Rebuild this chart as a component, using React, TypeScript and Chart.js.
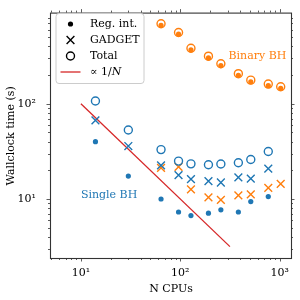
import React, { useEffect, useRef } from 'react';
import { Chart, registerables } from 'chart.js';

Chart.register(...registerables);

const BLUE = '#1f77b4';
const ORANGE = '#ff7f0e';
const RED = '#d62728';
const FONT = '"DejaVu Serif", "Liberation Serif", serif';

// Single BH runs
const singleN = [14, 30, 64, 96, 128, 192, 256, 384, 512, 768];
const singleReg = [40, 17.4, 10.0, 7.3, 6.7, 7.1, 7.7, 7.3, 9.4, 10.6];
const singleGadget = [67, 36, 22.5, 17.8, 16.2, 15.4, 14.9, 16.9, 16.4, 20.8];
const singleTotal = [107, 53, 33, 25, 23.4, 22.9, 23.3, 24, 26, 31.5];

// Binary BH runs
const binaryN = [64, 96, 128, 192, 256, 384, 512, 768, 1024];
const binaryReg = [665, 538, 368, 303, 252, 199, 170, 155, 145];
const binaryGadget = [21.2, 21.7, 12.6, 10.4, 9.8, 10.9, 11.2, 13.1, 14.4];
const binaryTotal = [693, 560, 383, 316, 263, 207, 177, 161, 151];

// 1/N reference line
const scalingN = [10, 316];
const scalingT = [100, 3.16];

const xTickValues = [10, 100, 1000];
const yTickValues = [10, 100];
const xRange = [5, 1300];
const yRange = [2.4, 885];

const xTitle = 'N CPUs';
const yTitle = 'Wallclock time (s)';
const legendLabels = ['Reg. int.', 'GADGET', 'Total'];
const binaryLabel = 'Binary BH';
const singleLabel = 'Single BH';
const binaryLabelPos = [1167, 316];
const singleLabelPos = [10, 10.9];

const SUP: Record<string, string> = { '0': '⁰', '1': '¹', '2': '²', '3': '³', '4': '⁴' };
const powLabel = (v: number) => {
  const e = Math.round(Math.log10(v));
  return '10' + String(e).split('').map((c) => SUP[c] || c).join('');
};

const pts = (xs: number[], ys: number[]) => xs.map((x, i) => ({ x, y: ys[i] }));

function drawCross(ctx: CanvasRenderingContext2D, x: number, y: number, r: number) {
  const d = r * Math.SQRT1_2;
  ctx.beginPath();
  ctx.moveTo(x - d, y - d);
  ctx.lineTo(x + d, y + d);
  ctx.moveTo(x - d, y + d);
  ctx.lineTo(x + d, y - d);
  ctx.stroke();
}

const overlayPlugin = {
  id: 'overlay',
  afterDraw(chart: any) {
    const { ctx, chartArea: a, scales } = chart;
    const xs = scales.x;
    const ys = scales.y;
    ctx.save();
    // frame
    ctx.strokeStyle = '#333';
    ctx.lineWidth = 1.1;
    ctx.strokeRect(a.left - 0.5, a.top - 0.5, a.right - a.left + 1, a.bottom - a.top + 1);
    // ticks, outward on all four sides
    const tickVals = (min: number, max: number) => {
      const out: { v: number; major: boolean }[] = [];
      for (let d = Math.floor(Math.log10(min)); d <= Math.ceil(Math.log10(max)); d++) {
        for (let k = 1; k <= 9; k++) {
          const v = k * Math.pow(10, d);
          if (v >= min && v <= max) out.push({ v, major: k === 1 });
        }
      }
      return out;
    };
    ctx.lineWidth = 0.8;
    ctx.beginPath();
    for (const t of tickVals(xs.min, xs.max)) {
      const p = Math.round(xs.getPixelForValue(t.v)) + 0.5;
      const len = t.major ? 3.5 : 2;
      ctx.moveTo(p, a.bottom);
      ctx.lineTo(p, a.bottom + len);
      ctx.moveTo(p, a.top - 1);
      ctx.lineTo(p, a.top - 1 - len);
    }
    for (const t of tickVals(ys.min, ys.max)) {
      const p = Math.round(ys.getPixelForValue(t.v)) + 0.5;
      const len = t.major ? 3.5 : 2;
      ctx.moveTo(a.left - 1, p);
      ctx.lineTo(a.left - 1 - len, p);
      ctx.moveTo(a.right, p);
      ctx.lineTo(a.right + len, p);
    }
    ctx.stroke();

    // x tick labels and x axis title
    ctx.font = `11px ${FONT}`;
    ctx.textBaseline = 'alphabetic';
    ctx.textAlign = 'center';
    ctx.fillStyle = '#000';
    xTickValues.forEach((v) => {
      const px = xs.getPixelForValue(v);
      ctx.fillText(powLabel(v), px, 275.5);
    });
    ctx.fillText(xTitle, (a.left + a.right) / 2, 291.5);

    // annotations
    ctx.textBaseline = 'middle';
    ctx.fillStyle = ORANGE;
    ctx.textAlign = 'right';
    ctx.fillText(binaryLabel, xs.getPixelForValue(binaryLabelPos[0]), ys.getPixelForValue(binaryLabelPos[1]));
    ctx.fillStyle = BLUE;
    ctx.textAlign = 'left';
    ctx.fillText(singleLabel, xs.getPixelForValue(singleLabelPos[0]), ys.getPixelForValue(singleLabelPos[1]));

    // legend
    const bx = 56, by = 13.5, bw = 88, bh = 70;
    ctx.beginPath();
    ctx.roundRect(bx, by, bw, bh, 3);
    ctx.fillStyle = 'rgba(255,255,255,0.8)';
    ctx.fill();
    ctx.strokeStyle = '#cccccc';
    ctx.lineWidth = 1;
    ctx.stroke();

    const mx = 70.5;
    const tx = 90;
    const rows = [24, 40, 56, 72];
    ctx.fillStyle = '#000';
    ctx.strokeStyle = '#000';
    ctx.lineWidth = 1.4;
    ctx.beginPath();
    ctx.arc(mx, rows[0], 2.6, 0, Math.PI * 2);
    ctx.fill();
    drawCross(ctx, mx, rows[1], 5.5);
    ctx.beginPath();
    ctx.arc(mx, rows[2], 4, 0, Math.PI * 2);
    ctx.stroke();
    ctx.strokeStyle = RED;
    ctx.lineWidth = 1.3;
    ctx.beginPath();
    ctx.moveTo(60.5, rows[3]);
    ctx.lineTo(80.5, rows[3]);
    ctx.stroke();

    ctx.fillStyle = '#000';
    ctx.textAlign = 'left';
    ctx.font = `11px ${FONT}`;
    legendLabels.forEach((l, i) => ctx.fillText(l, tx, rows[i]));
    const pre = '∝ 1/';
    ctx.fillText(pre, tx, rows[3]);
    const w = ctx.measureText(pre).width;
    ctx.font = `italic 11px ${FONT}`;
    ctx.fillText('N', tx + w, rows[3]);
    ctx.restore();
  },
};

export default function App() {
  const ref = useRef<HTMLCanvasElement>(null);
  useEffect(() => {
    if (!ref.current) return;
    Chart.defaults.font.family = FONT;
    Chart.defaults.color = '#000';
    const chart = new Chart(ref.current, {
      type: 'scatter',
      data: {
        datasets: [
          { label: 'single total', data: pts(singleN, singleTotal), pointStyle: 'circle', pointRadius: 4, borderColor: BLUE, backgroundColor: 'rgba(0,0,0,0)', borderWidth: 1.4 },
          { label: 'binary total', data: pts(binaryN, binaryTotal), pointStyle: 'circle', pointRadius: 4, borderColor: ORANGE, backgroundColor: 'rgba(0,0,0,0)', borderWidth: 1.4 },
          { label: 'single gadget', data: pts(singleN, singleGadget), pointStyle: 'crossRot', pointRadius: 5.5, borderColor: BLUE, backgroundColor: BLUE, borderWidth: 1.4 },
          { label: 'binary gadget', data: pts(binaryN, binaryGadget), pointStyle: 'crossRot', pointRadius: 5.5, borderColor: ORANGE, backgroundColor: ORANGE, borderWidth: 1.4 },
          { label: 'single reg', data: pts(singleN, singleReg), pointStyle: 'circle', pointRadius: 2.6, borderWidth: 0, backgroundColor: BLUE, borderColor: BLUE },
          { label: 'binary reg', data: pts(binaryN, binaryReg), pointStyle: 'circle', pointRadius: 2.6, borderWidth: 0, backgroundColor: ORANGE, borderColor: ORANGE },
          { label: '1/N', data: pts(scalingN, scalingT), showLine: true, pointRadius: 0, borderColor: RED, borderWidth: 1.3, backgroundColor: RED },
        ],
      },
      options: {
        animation: false,
        responsive: false,
        events: [],
        layout: { padding: { top: 9, right: 9, left: 0, bottom: 0 } },
        plugins: { legend: { display: false }, tooltip: { enabled: false } },
        scales: {
          x: {
            type: 'logarithmic',
            min: xRange[0],
            max: xRange[1],
            bounds: 'data',
            grid: { display: false },
            border: { display: false },
            ticks: { display: false },
            title: { display: false },
            afterFit: (s: any) => { s.height = 42; },
          },
          y: {
            type: 'logarithmic',
            min: yRange[0],
            max: yRange[1],
            bounds: 'data',
            grid: { display: false },
            border: { display: false },
            afterBuildTicks: (s: any) => { s.ticks = yTickValues.map((v) => ({ value: v })); },
            ticks: { callback: (v: any) => powLabel(Number(v)), font: { size: 11, family: FONT }, color: '#000', padding: 7, autoSkip: false },
            title: { display: true, text: yTitle, font: { size: 11, family: FONT }, color: '#000', padding: { top: 5, bottom: 0 } },
            afterFit: (s: any) => { s.width = 51; },
          },
        },
      },
      plugins: [overlayPlugin],
    } as any);
    return () => chart.destroy();
  }, []);
  return (
    <div style={{ position: 'absolute', left: 0, top: 0, width: 300, height: 300, background: '#fff' }}>
      <canvas ref={ref} width={300} height={300} style={{ display: 'block', width: 300, height: 300 }} />
    </div>
  );
}
